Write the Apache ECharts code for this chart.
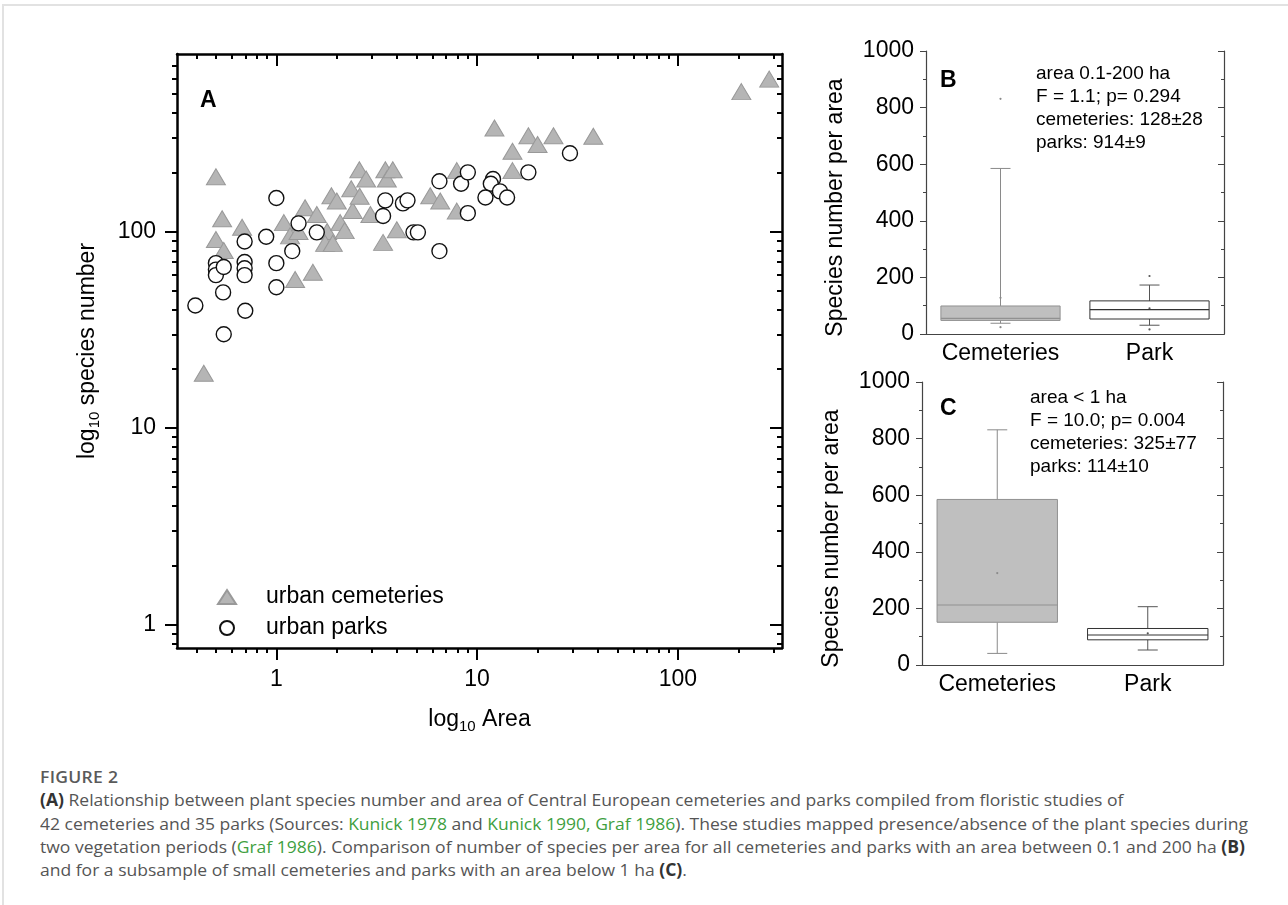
<!DOCTYPE html>
<html>
<head>
<meta charset="utf-8">
<script src="https://cdn.jsdelivr.net/npm/echarts@6/dist/echarts.min.js"></script>
<style>
  html, body { margin: 0; padding: 0; background: #fff; }
  #wrap { position: relative; width: 1288px; height: 905px; overflow: hidden; }
  #frame { position: absolute; left: 2px; top: 4px; right: -4px; bottom: -4px; border-top: 2px solid #e2e2e2; border-left: 2px solid #e2e2e2; }
  #chart { position: absolute; left: 0; top: 0; width: 1288px; height: 760px; }
  #caption { position: absolute; left: 40px; top: 765px; font-family: 'Open Sans', sans-serif; font-size: 17px; line-height: 23.3px; color: #555; white-space: nowrap; transform-origin: 0 0; }
  #caption .fig { font-weight: 600; color: #5a5a5a; letter-spacing: 0.3px; }
  #caption b { color: #333; }
  #caption .ln { color: #3f9f3f; }
</style>
</head>
<body>
<div id="wrap">
  <div id="frame"></div>
  <div id="chart"></div>
  <div id="caption">
    <div class="fig">FIGURE 2</div>
    <div><b>(A)</b> Relationship between plant species number and area of Central European cemeteries and parks compiled from floristic studies of</div>
    <div id="capLong">42 cemeteries and 35 parks (Sources: <span class="ln">Kunick 1978</span> and <span class="ln">Kunick 1990, Graf 1986</span>). These studies mapped presence/absence of the plant species during</div>
    <div>two vegetation periods (<span class="ln">Graf 1986</span>). Comparison of number of species per area for all cemeteries and parks with an area between 0.1 and 200 ha <b>(B)</b></div>
    <div>and for a subsample of small cemeteries and parks with an area below 1 ha <b>(C)</b>.</div>
  </div>
</div>
<script>
var FONT = '"Liberation Sans", Arial, Helvetica, sans-serif';

// panel A: area (ha) and species number
var cemArea = [0.435, 0.50, 0.537, 0.50, 0.547, 0.675, 1.09, 1.17, 1.29, 1.24, 1.52, 1.39, 1.59, 1.79, 1.75, 1.91, 1.88, 2.0, 2.08, 2.19, 2.36, 2.4, 2.6, 2.59, 2.8, 2.94, 3.4, 3.49, 3.55, 3.8, 3.98, 5.84, 6.55, 7.92, 7.92, 12.2, 15.0, 15.0, 18.0, 20.0, 24.0, 37.9, 207, 285];
var cemSpecies = [19, 190, 116, 91, 80, 105, 111, 95, 100, 57, 62, 132, 122, 100, 87, 87, 152, 143, 111, 101, 165, 128, 151, 206, 185, 122, 88, 206, 185, 206, 102, 152, 143, 204, 127, 336, 256, 204, 307, 277, 307, 305, 515, 596];
var parkArea = [0.395, 0.547, 0.543, 0.50, 0.50, 0.50, 0.547, 0.695, 0.695, 0.695, 0.695, 0.70, 0.89, 1.0, 1.0, 1.0, 1.29, 1.2, 1.59, 3.49, 3.4, 4.27, 4.5, 4.82, 5.07, 6.49, 6.49, 8.32, 8.99, 8.99, 12.0, 11.7, 13.0, 11.0, 14.1, 18.0, 29.0];
var parkSpecies = [42, 30, 49, 69, 64, 60, 66, 89, 70, 65, 60, 39.5, 94, 148, 69, 52, 110, 79.5, 99, 144, 120, 139, 144, 99, 99, 79.5, 180, 175, 200, 124, 185, 175, 160, 149, 149, 200, 250];

// axis ticks of panel A
var xMajor = [1, 10, 100];
var xMinor = [0.4, 0.5, 0.6, 0.7, 0.8, 0.9, 2, 3, 4, 5, 6, 7, 8, 9, 20, 30, 40, 50, 60, 70, 80, 90, 200, 300];
var yMajor = [1, 10, 100];
var yMinor = [0.8, 0.9, 2, 3, 4, 5, 6, 7, 8, 9, 20, 30, 40, 50, 60, 70, 80, 90, 200, 300, 400, 500, 600, 700];

// panels B and C: [category, whisker low, Q1, median, Q3, whisker high, mean, min point, max point]
var boxCategories = ['Cemeteries', 'Park'];
var boxStatsB = [[0, 38, 48, 55, 99, 585, 128, 24, 831], [1, 31, 53, 86, 117, 173, 91, 16, 205]];
var boxStatsC = [[0, 41, 151, 212, 585, 831, 325, '-', '-'], [1, 53, 89, 106, 129, 206, 112, '-', '-']];
var noteB = ['area 0.1-200 ha', 'F = 1.1; p= 0.294', 'cemeteries: 128\u00b128', 'parks: 914\u00b19'];
var noteC = ['area < 1 ha', 'F = 10.0; p= 0.004', 'cemeteries: 325\u00b177', 'parks: 114\u00b110'];

function zip(a, b) {
    var out = [];
    for (var i = 0; i < a.length; i++) out.push([a[i], b[i]]);
    return out;
}

var nameRich = {
    a: { fontSize: 23, color: '#000', fontFamily: FONT, lineHeight: 30 },
    s: { fontSize: 15, color: '#000', fontFamily: FONT, lineHeight: 15, padding: [14, 0, 0, 0], verticalAlign: 'top' }
};

// one log axis of panel A; kind = major / minor, side = bottom/top/left/right
function logAxis(dim, side, kind, extra) {
    var isX = dim === 'x';
    var ax = {
        type: 'log', logBase: 10, gridIndex: 0, position: side,
        min: isX ? 0.32 : 0.76, max: isX ? 330 : 800,
        splitLine: { show: false },
        axisLine: { show: kind === 'major', lineStyle: { color: '#000', width: 2.5 } },
        axisTick: {
            show: true, inside: side === 'top' || side === 'right',
            customValues: kind === 'major' ? (isX ? xMajor : yMajor) : (isX ? xMinor : yMinor),
            length: kind === 'major' ? 12 : 5,
            lineStyle: { color: '#000', width: 2 }
        },
        axisLabel: { show: false }
    };
    return Object.assign(ax, extra || {});
}

var chart = echarts.init(document.getElementById('chart'));

function boxAxes(gi) {
    var xs = [
        {
            type: 'category', gridIndex: gi, position: 'bottom', data: boxCategories,
            axisLine: { lineStyle: { color: '#444', width: 1.2 } },
            axisTick: { alignWithLabel: true, length: 5, lineStyle: { color: '#444' } },
            axisLabel: { interval: 0, hideOverlap: false, fontSize: 23, color: '#000', fontFamily: FONT, margin: 8 }
        },
        {
            type: 'category', gridIndex: gi, position: 'top', data: boxCategories,
            axisLine: { lineStyle: { color: '#444', width: 1.2 } },
            axisTick: { alignWithLabel: true, inside: true, length: 5, lineStyle: { color: '#444' } },
            axisLabel: { show: false }
        }
    ];
    var ys = [
        {
            type: 'value', gridIndex: gi, position: 'left', min: 0, max: 1000, interval: 200,
            name: 'Species number per area', nameLocation: 'middle', nameGap: 79,
            nameTextStyle: { fontSize: 23, color: '#000', fontFamily: FONT, padding: [0, 30, 0, 0] },
            splitLine: { show: false },
            axisLine: { show: true, lineStyle: { color: '#444', width: 1.2 } },
            axisTick: { show: true, length: 6, lineStyle: { color: '#444' } },
            minorTick: { show: true, splitNumber: 2, length: 3, lineStyle: { color: '#444' } },
            axisLabel: {
                fontSize: 23, color: '#000', fontFamily: FONT, margin: 12,
                formatter: function (v) { return String(v); }
            }
        },
        {
            type: 'value', gridIndex: gi, position: 'right', min: 0, max: 1000, interval: 200,
            splitLine: { show: false },
            axisLine: { show: true, lineStyle: { color: '#444', width: 1.2 } },
            axisTick: { show: true, inside: true, length: 6, lineStyle: { color: '#444' } },
            minorTick: { show: true, splitNumber: 2, length: 3, lineStyle: { color: '#444' } },
            axisLabel: { show: false }
        }
    ];
    return { x: xs, y: ys };
}

var boxStyles = [
    { fill: '#bfbfbf', stroke: '#919191', whisker: '#8a8a8a', dot: '#8a8a8a' },
    { fill: '#ffffff', stroke: '#333333', whisker: '#555555', dot: '#555555' }
];

function renderBox(params, api) {
    var c = api.value(0);
    var lo = api.coord([c, api.value(1)]);
    var q1 = api.coord([c, api.value(2)]);
    var med = api.coord([c, api.value(3)]);
    var q3 = api.coord([c, api.value(4)]);
    var hi = api.coord([c, api.value(5)]);
    var mean = api.coord([c, api.value(6)]);
    var bw = api.size([1, 0])[0] * 0.8;
    var x = lo[0];
    var st = boxStyles[c];
    var capW = 10;
    var ls = { stroke: st.whisker, lineWidth: 1 };
    var kids = [
        { type: 'line', shape: { x1: x, y1: hi[1], x2: x, y2: q3[1] }, style: ls },
        { type: 'line', shape: { x1: x, y1: q1[1], x2: x, y2: lo[1] }, style: ls },
        { type: 'line', shape: { x1: x - capW, y1: hi[1], x2: x + capW, y2: hi[1] }, style: ls },
        { type: 'line', shape: { x1: x - capW, y1: lo[1], x2: x + capW, y2: lo[1] }, style: ls },
        { type: 'rect', shape: { x: x - bw / 2, y: q3[1], width: bw, height: q1[1] - q3[1] }, style: { fill: st.fill, stroke: st.stroke, lineWidth: 1 } },
        { type: 'line', shape: { x1: x - bw / 2, y1: med[1], x2: x + bw / 2, y2: med[1] }, style: { stroke: st.stroke, lineWidth: 1.2 } },
        { type: 'circle', shape: { cx: x, cy: mean[1], r: 1.1 }, style: { fill: st.dot } }
    ];
    [7, 8].forEach(function (d) {
        var v = api.value(d);
        if (!isNaN(v)) {
            var p = api.coord([c, v]);
            kids.push({ type: 'circle', shape: { cx: x, cy: p[1], r: 1.1 }, style: { fill: st.dot } });
        }
    });
    return { type: 'group', children: kids };
}

var axB = boxAxes(1), axC = boxAxes(2);

var option = {
    animation: false,
    backgroundColor: 'transparent',
    textStyle: { fontFamily: FONT },
    grid: [
        { left: 177, top: 54, width: 605, height: 594, outerBoundsMode: 'none' },
        { left: 926, top: 51, width: 298, height: 283, outerBoundsMode: 'none' },
        { left: 922, top: 382, width: 301, height: 283, outerBoundsMode: 'none' }
    ],
    legend: {
        orient: 'vertical', left: 212, top: 579, itemWidth: 18, itemHeight: 14, itemGap: 5,
        selectedMode: false,
        textStyle: { fontSize: 23, color: '#000', fontFamily: FONT, lineHeight: 26, padding: [0, 0, 0, 25] },
        data: ['urban cemeteries', 'urban parks']
    },
    xAxis: [
        logAxis('x', 'bottom', 'major', {
            axisLabel: { show: true, customValues: xMajor, fontSize: 23, color: '#000', fontFamily: FONT, margin: 20 },
            name: '{a|log}{s|10}{a| Area}', nameLocation: 'middle', nameGap: 57,
            nameTextStyle: { rich: nameRich }
        }),
        logAxis('x', 'bottom', 'minor'),
        logAxis('x', 'top', 'major'),
        logAxis('x', 'top', 'minor')
    ].concat(axB.x, axC.x),
    yAxis: [
        logAxis('y', 'left', 'major', {
            axisLabel: { show: true, customValues: yMajor, fontSize: 23, color: '#000', fontFamily: FONT, margin: 21 },
            name: '{a|log}{s|10}{a| species number}', nameLocation: 'middle', nameGap: 74,
            nameTextStyle: { rich: nameRich }
        }),
        logAxis('y', 'left', 'minor'),
        logAxis('y', 'right', 'major'),
        logAxis('y', 'right', 'minor')
    ].concat(axB.y, axC.y),
    graphic: {
        elements: [
            { type: 'text', left: 200, top: 89, style: { text: 'A', font: 'bold 23px ' + FONT, fill: '#000' } },
            { type: 'text', left: 940, top: 69, style: { text: 'B', font: 'bold 23px ' + FONT, fill: '#000' } },
            { type: 'text', left: 940, top: 397, style: { text: 'C', font: 'bold 23px ' + FONT, fill: '#000' } },
            { type: 'text', left: 1036, top: 62, style: { text: noteB.join('\n'), font: '19px ' + FONT, lineHeight: 23, fill: '#000' } },
            { type: 'text', left: 1030, top: 386, style: { text: noteC.join('\n'), font: '19px ' + FONT, lineHeight: 23, fill: '#000' } }
        ]
    },
    series: [
        {
            name: 'urban cemeteries', type: 'scatter', xAxisIndex: 0, yAxisIndex: 0,
            symbol: 'triangle', symbolSize: [19, 16],
            itemStyle: { color: '#b5b5b5', borderColor: '#999999', borderWidth: 1, opacity: 1 },
            data: zip(cemArea, cemSpecies)
        },
        {
            name: 'urban parks', type: 'scatter', xAxisIndex: 0, yAxisIndex: 0,
            symbol: 'circle', symbolSize: 15,
            itemStyle: { color: '#ffffff', borderColor: '#111111', borderWidth: 1.4, opacity: 1 },
            data: zip(parkArea, parkSpecies)
        },
        {
            type: 'custom', xAxisIndex: 4, yAxisIndex: 4, renderItem: renderBox, clip: false,
            encode: { x: 0, y: [1, 2, 3, 4, 5] }, data: boxStatsB
        },
        {
            type: 'custom', xAxisIndex: 6, yAxisIndex: 6, renderItem: renderBox, clip: false,
            encode: { x: 0, y: [1, 2, 3, 4, 5] }, data: boxStatsC
        }
    ]
};

chart.setOption(option);

// squeeze the caption so its longest line spans like the reference
var cap = document.getElementById('caption');
var range = document.createRange();
range.selectNodeContents(document.getElementById('capLong'));
var tw = range.getBoundingClientRect().width;
cap.style.transform = 'scaleX(' + (1208 / tw) + ')';
</script>
</body>
</html>
